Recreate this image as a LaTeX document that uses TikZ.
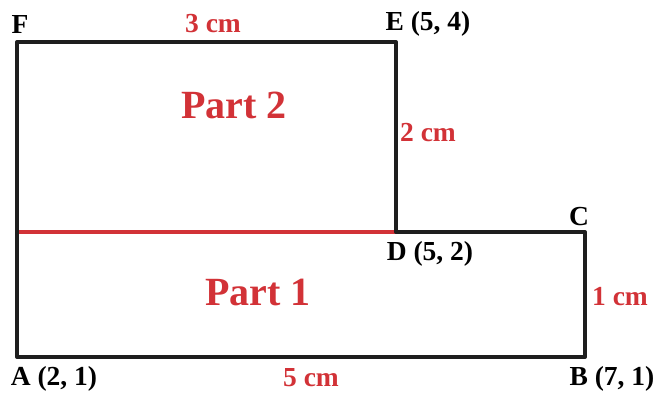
\documentclass[tikz,border=0pt]{standalone}
\usepackage{fontspec}
\setmainfont{Liberation Serif}
\definecolor{myred}{RGB}{210,50,55}
\definecolor{myblack}{RGB}{30,30,30}
\begin{document}
\begin{tikzpicture}[x=1pt,y=-1pt,
  edge/.style={line width=4pt,draw=myblack,line cap=round,line join=round},
  lbl/.style={font=\bfseries\fontsize{27.5}{30}\selectfont,text=black,inner sep=0pt},
  rlbl/.style={font=\bfseries\fontsize{27.5}{30}\selectfont,text=myred,inner sep=0pt},
  part/.style={font=\bfseries\fontsize{40}{44}\selectfont,text=myred,inner sep=0pt}]
\useasboundingbox (0,0) rectangle (658,392);
\coordinate (A) at (17,357);
\coordinate (B) at (585,357);
\coordinate (C) at (585,232);
\coordinate (D) at (396,232);
\coordinate (E) at (396,42);
\coordinate (F) at (17,42);
\coordinate (M) at (17,232);
\draw[line width=3.5pt,draw=myred] (M) -- (D);
\draw[edge] (A) -- (B) -- (C) -- (D) -- (E) -- (F) -- cycle;
\node[lbl] (lF) at (20,24) {F};
\node[rlbl] (l3) at (213,24) {3 cm};
\node[lbl] (lE) at (428,24) {E (5, 4)};
\node[part] (p2) at (234,105) {Part 2};
\node[rlbl] (l2) at (428,133) {2 cm};
\node[lbl] (lC) at (579,217) {C};
\node[lbl] (lD) at (430,254) {D (5, 2)};
\node[part] (p1) at (258,292) {Part 1};
\node[rlbl] (l1) at (620,297) {1 cm};
\node[lbl] (lA) at (54,379) {A (2, 1)};
\node[rlbl] (l5) at (311,378) {5 cm};
\node[lbl] (lB) at (612,379) {B (7, 1)};
\end{tikzpicture}
\end{document}
